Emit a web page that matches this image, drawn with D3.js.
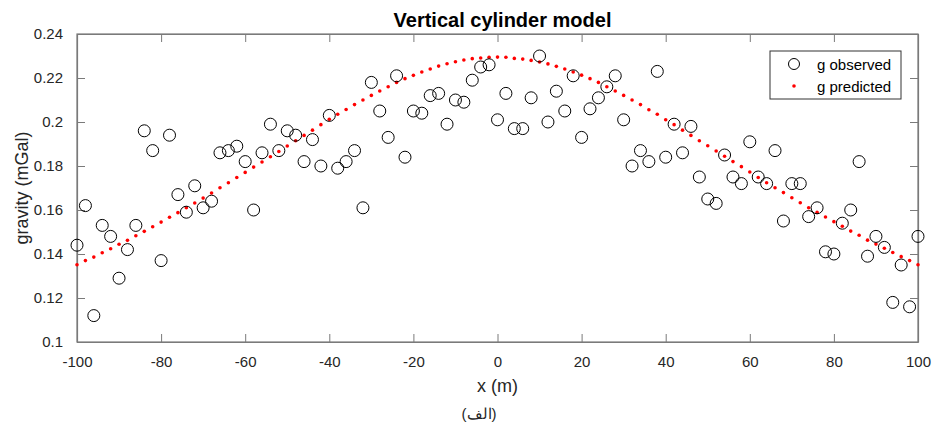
<!DOCTYPE html>
<html>
<head>
<meta charset="utf-8">
<script src="https://cdn.jsdelivr.net/npm/d3@7"></script>
<style>
body { margin: 0; background: #fff; }
text { font-family: "Liberation Sans", Arial, sans-serif; }
</style>
</head>
<body>
<div id="chart"></div>
<script>
// x positions (m), every 2 m
var xPos = d3.range(-100, 101, 2)

var gObserved = [
	0.144, 0.162, 0.112, 0.153, 0.148, 0.129, 0.142, 0.153, 0.196, 0.187,
	0.137, 0.194, 0.167, 0.159, 0.171, 0.161, 0.164, 0.186, 0.187, 0.189,
	0.182, 0.160, 0.186, 0.199, 0.187, 0.196, 0.194, 0.182, 0.192, 0.180,
	0.203, 0.179, 0.182, 0.187, 0.161, 0.218, 0.205, 0.193, 0.221, 0.184,
	0.205, 0.204, 0.212, 0.213, 0.199, 0.210, 0.209, 0.219, 0.225, 0.226,
	0.201, 0.213, 0.197, 0.197, 0.211, 0.230, 0.200, 0.214, 0.205, 0.221,
	0.193, 0.206, 0.211, 0.216, 0.221, 0.201, 0.180, 0.187, 0.182, 0.223,
	0.184, 0.199, 0.186, 0.198, 0.175, 0.165, 0.163, 0.185, 0.175, 0.172,
	0.191, 0.175, 0.172, 0.187, 0.155, 0.172, 0.172, 0.157, 0.161, 0.141,
	0.140, 0.154, 0.160, 0.182, 0.139, 0.148, 0.143, 0.118, 0.135, 0.116,
	0.148
]

var gPredicted = [
	0.1351, 0.1370, 0.1386, 0.1406, 0.1424, 0.1444, 0.1462, 0.1483, 0.1503, 0.1524,
	0.1545, 0.1567, 0.1588, 0.1610, 0.1632, 0.1654, 0.1677, 0.1701, 0.1724, 0.1748,
	0.1771, 0.1795, 0.1818, 0.1842, 0.1866, 0.1891, 0.1915, 0.1939, 0.1963, 0.1988,
	0.2012, 0.2035, 0.2057, 0.2079, 0.2100, 0.2121, 0.2141, 0.2160, 0.2180, 0.2197,
	0.2212, 0.2227, 0.2241, 0.2254, 0.2265, 0.2274, 0.2282, 0.2288, 0.2291, 0.2294,
	0.2295, 0.2294, 0.2289, 0.2286, 0.2280, 0.2273, 0.2264, 0.2253, 0.2241, 0.2227,
	0.2213, 0.2197, 0.2180, 0.2160, 0.2141, 0.2121, 0.2100, 0.2079, 0.2056, 0.2035,
	0.2010, 0.1988, 0.1963, 0.1939, 0.1915, 0.1892, 0.1868, 0.1844, 0.1820, 0.1797,
	0.1773, 0.1748, 0.1724, 0.1701, 0.1679, 0.1656, 0.1633, 0.1610, 0.1589, 0.1568,
	0.1547, 0.1526, 0.1504, 0.1485, 0.1463, 0.1445, 0.1426, 0.1407, 0.1388, 0.1370,
	0.1351
]

var xTicks = [-100, -80, -60, -40, -20, 0, 20, 40, 60, 80, 100]
var xTickLabels = ["-100", "-80", "-60", "-40", "-20", "0", "20", "40", "60", "80", "100"]
var yTicks = [0.1, 0.12, 0.14, 0.16, 0.18, 0.2, 0.22, 0.24]
var yTickLabels = ["0.1", "0.12", "0.14", "0.16", "0.18", "0.2", "0.22", "0.24"]

var width = 933, height = 426
var margin = {left: 77, right: 15, top: 34, bottom: 84}

var svg = d3.select("#chart")
	.append("svg")
	.attr("width", width)
	.attr("height", height)

var x = d3.scaleLinear().domain([-100, 100]).range([margin.left, width - margin.right])
var y = d3.scaleLinear().domain([0.1, 0.24]).range([height - margin.bottom, margin.top])

var axisColor = "#7a7a7a"
var tickLen = 8

// axes with inward ticks
var xAxis = svg.append("g")
	.attr("transform", "translate(0," + y(0.1) + ")")
	.call(d3.axisBottom(x).tickValues(xTicks).tickSizeInner(-tickLen).tickSizeOuter(0).tickPadding(14)
		.tickFormat(function(d, i){ return xTickLabels[i]; }))
var xAxisTop = svg.append("g")
	.attr("transform", "translate(0," + y(0.24) + ")")
	.call(d3.axisTop(x).tickValues(xTicks).tickSizeInner(-tickLen).tickSizeOuter(0).tickFormat(""))
var yAxis = svg.append("g")
	.attr("transform", "translate(" + x(-100) + ",0)")
	.call(d3.axisLeft(y).tickValues(yTicks).tickSizeInner(-tickLen).tickSizeOuter(0).tickPadding(14)
		.tickFormat(function(d, i){ return yTickLabels[i]; }))
var yAxisRight = svg.append("g")
	.attr("transform", "translate(" + x(100) + ",0)")
	.call(d3.axisRight(y).tickValues(yTicks).tickSizeInner(-tickLen).tickSizeOuter(0).tickFormat(""))

svg.selectAll(".domain").attr("stroke", axisColor).attr("stroke-width", 1.2)
svg.selectAll(".tick line").attr("stroke", axisColor)
svg.selectAll(".tick text").attr("font-size", 15).attr("fill", "#262626")
	.style("font-family", "'Liberation Sans', Arial, sans-serif")

// box
svg.append("rect")
	.attr("x", x(-100)).attr("y", y(0.24))
	.attr("width", x(100) - x(-100)).attr("height", y(0.1) - y(0.24))
	.attr("fill", "none").attr("stroke", axisColor).attr("stroke-width", 1.2)

// predicted dots
svg.append("g").selectAll("circle")
	.data(xPos)
	.enter().append("circle")
	.attr("cx", function(d){ return x(d); })
	.attr("cy", function(d, i){ return y(gPredicted[i]); })
	.attr("r", 1.8)
	.attr("fill", "#ff0000")

// observed circles
svg.append("g").selectAll("circle")
	.data(xPos)
	.enter().append("circle")
	.attr("cx", function(d){ return x(d); })
	.attr("cy", function(d, i){ return y(gObserved[i]); })
	.attr("r", 6)
	.attr("fill", "none")
	.attr("stroke", "#000")
	.attr("stroke-width", 1)

// title and labels
svg.append("text")
	.attr("x", (x(-100) + x(100)) / 2 + 5).attr("y", 27)
	.attr("text-anchor", "middle")
	.attr("font-size", 20).attr("font-weight", "bold")
	.text("Vertical cylinder model")

svg.append("text")
	.attr("x", (x(-100) + x(100)) / 2).attr("y", 392)
	.attr("text-anchor", "middle")
	.attr("font-size", 18).attr("fill", "#262626")
	.text("x (m)")

svg.append("text")
	.attr("transform", "translate(28," + (y(0.17)) + ") rotate(-90)")
	.attr("text-anchor", "middle")
	.attr("font-size", 18).attr("fill", "#262626")
	.text("gravity (mGal)")

svg.append("text")
	.attr("x", 479).attr("y", 419)
	.attr("text-anchor", "middle")
	.attr("font-size", 15).attr("fill", "#262626")
	.text("(الف)")

// legend
var legend = svg.append("g").attr("transform", "translate(770,51)")
legend.append("rect")
	.attr("width", 131).attr("height", 48)
	.attr("fill", "#fff").attr("stroke", "#333").attr("stroke-width", 1)
legend.append("circle").attr("cx", 24).attr("cy", 13).attr("r", 5.5)
	.attr("fill", "none").attr("stroke", "#000")
legend.append("circle").attr("cx", 24).attr("cy", 35).attr("r", 1.8)
	.attr("fill", "#ff0000")
legend.append("text").attr("x", 47).attr("y", 18.5).attr("font-size", 15).text("g observed")
legend.append("text").attr("x", 47).attr("y", 40.5).attr("font-size", 15).text("g predicted")
</script>
</body>
</html>
